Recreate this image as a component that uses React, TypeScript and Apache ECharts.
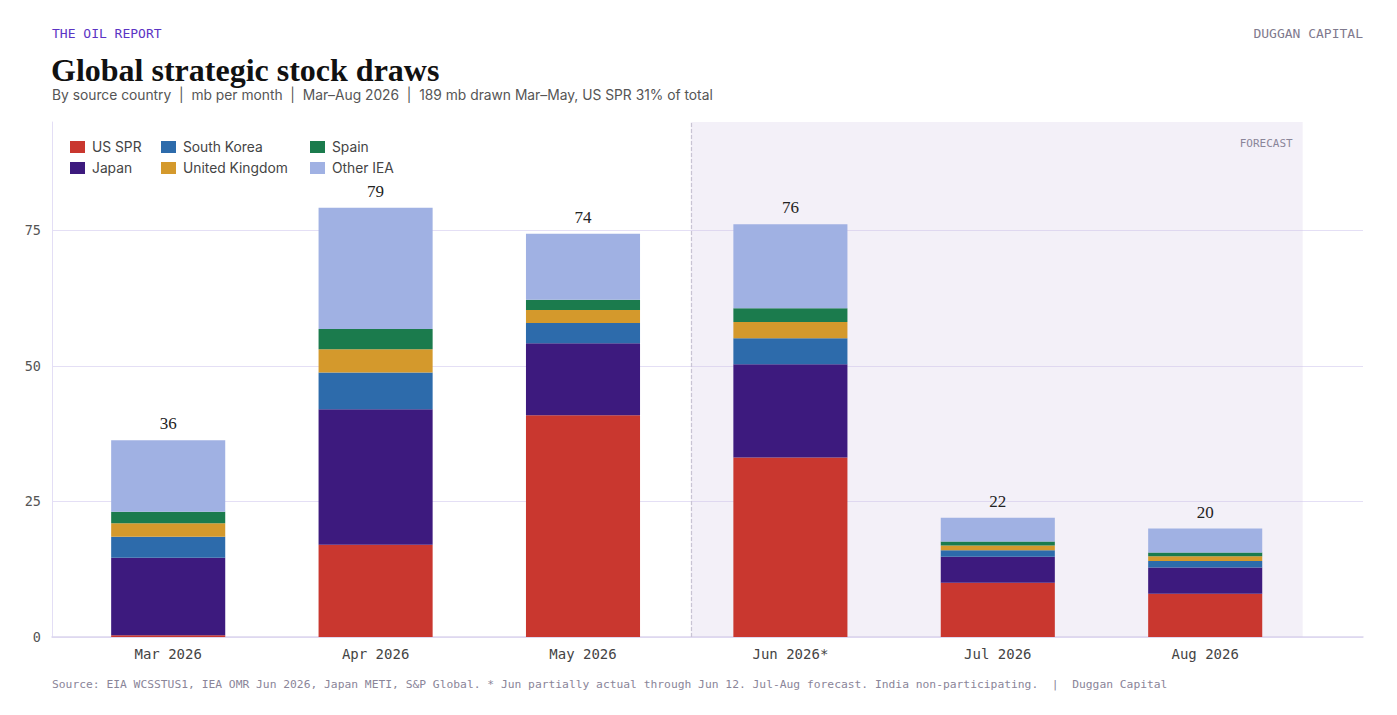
import React, { useEffect, useRef } from "react";
import * as echarts from "echarts";

const categories = ["Mar 2026", "Apr 2026", "May 2026", "Jun 2026*", "Jul 2026", "Aug 2026"];
const usSpr = [0.3, 17.0, 40.9, 33.1, 10.0, 8.0];
const japan = [14.3, 25.0, 13.3, 17.2, 4.8, 4.8];
const southKorea = [3.9, 6.8, 3.7, 4.8, 1.2, 1.2];
const unitedKingdom = [2.5, 4.3, 2.4, 3.0, 0.9, 0.9];
const spain = [2.1, 3.7, 1.9, 2.55, 0.7, 0.7];
const otherIea = [13.2, 22.4, 12.2, 15.5, 4.4, 4.4];
const totals = [36, 79, 74, 76, 22, 20];
const forecastStart = 3.02;
const forecastEnd = 5.97;
const yMax = 95;
const yInterval = 25;

const seriesDefs = [
  { name: "US SPR", data: usSpr, color: "#c9372f" },
  { name: "Japan", data: japan, color: "#3d1a7e" },
  { name: "South Korea", data: southKorea, color: "#2d6bab" },
  { name: "United Kingdom", data: unitedKingdom, color: "#d4992c" },
  { name: "Spain", data: spain, color: "#1b7b4d" },
  { name: "Other IEA", data: otherIea, color: "#a0b1e3" },
];

const MONO = "'DejaVu Sans Mono', 'Liberation Mono', monospace";
const SANS = "Inter, 'Noto Sans', sans-serif";
const SERIF = "'Liberation Serif', 'DejaVu Serif', serif";

export default function App() {
  const ref = useRef<HTMLDivElement>(null);
  useEffect(() => {
    if (!ref.current) return;
    const chart = echarts.init(ref.current, null, { renderer: "svg" });
    const legendCommon = {
      orient: "vertical",
      icon: "rect",
      itemWidth: 15,
      itemHeight: 12,
      itemGap: 7,
      top: 135,
      padding: 5,
      selectedMode: false,
      textStyle: { fontFamily: SANS, fontSize: 13.8, color: "#444", lineHeight: 14, padding: [0, 0, 0, 2] },
    };
    const barSeries = seriesDefs.map((s, i) => ({
      name: s.name,
      type: "bar",
      stack: "total",
      xAxisIndex: 1,
      yAxisIndex: 1,
      barWidth: "55%",
      data: s.data,
      z: 3,
      itemStyle: { color: s.color },
      label:
        i === seriesDefs.length - 1
          ? {
              show: true,
              position: "top",
              distance: 8,
              fontFamily: SERIF,
              fontSize: 17,
              color: "#222",
              formatter: (p: any) => String(totals[p.dataIndex]),
            }
          : { show: false },
    }));
    const option: any = {
      animation: false,
      backgroundColor: "#ffffff",
      grid: [
        { left: 52, right: 34, top: 122, bottom: 78 },
        { left: 64.5, right: 88.1, top: 122, bottom: 78 },
      ],
      xAxis: [
        {
          type: "value",
          gridIndex: 0,
          min: 0,
          max: 1,
          axisLine: { show: true, lineStyle: { color: "#dcd6ee", width: 1.5 } },
          axisTick: { show: false },
          axisLabel: { show: false },
          splitLine: { show: false },
        },
        {
          type: "category",
          gridIndex: 1,
          data: categories,
          axisLine: { show: false },
          axisTick: { show: false },
          axisLabel: { fontFamily: MONO, fontSize: 14, color: "#444", margin: 10 },
          splitLine: { show: false },
        },
        {
          type: "value",
          gridIndex: 1,
          position: "top",
          min: 0,
          max: 6,
          show: false,
        },
      ],
      yAxis: [
        {
          type: "value",
          gridIndex: 0,
          min: 0,
          max: yMax,
          interval: yInterval,
          axisLine: { show: true, lineStyle: { color: "#e3def5" } },
          axisTick: { show: false },
          axisLabel: { fontFamily: MONO, fontSize: 13.5, color: "#555", margin: 11, showMaxLabel: false },
          splitLine: { show: true, showMaxLine: false, lineStyle: { color: "#e4dff5", width: 1 } },
        },
        {
          type: "value",
          gridIndex: 1,
          min: 0,
          max: yMax,
          interval: yInterval,
          show: false,
          splitLine: { show: false },
        },
      ],
      legend: [
        { ...legendCommon, left: 65, data: ["US SPR", "Japan"] },
        { ...legendCommon, left: 156, data: ["South Korea", "United Kingdom"] },
        { ...legendCommon, left: 305, data: ["Spain", "Other IEA"] },
      ],
      series: [
        {
          name: "forecast",
          type: "line",
          xAxisIndex: 2,
          yAxisIndex: 1,
          data: [],
          z: 1,
          silent: true,
          markArea: {
            silent: true,
            itemStyle: { color: "rgba(207,195,227,0.25)" },
            label: {
              show: true,
              position: "insideTopRight",
              distance: 0,
              padding: [16, 10, 0, 0],
              fontFamily: MONO,
              fontSize: 11,
              color: "#8a8599",
              formatter: "FORECAST",
            },
            data: [[{ xAxis: forecastStart }, { xAxis: forecastEnd }]],
          },
          markLine: {
            silent: true,
            symbol: "none",
            label: { show: false },
            lineStyle: { color: "#c8c4d4", type: [4, 2], width: 1.2 },
            data: [{ xAxis: forecastStart }],
          },
        },
        ...barSeries,
      ],
      graphic: [
        {
          type: "text",
          left: 52,
          top: 27,
          style: { text: "THE OIL REPORT", font: `13px ${MONO}`, fill: "#5b34c4" },
        },
        {
          type: "text",
          right: 34,
          top: 27,
          style: { text: "DUGGAN CAPITAL", font: `13px ${MONO}`, fill: "#7f7a8e" },
        },
        {
          type: "text",
          left: 51,
          top: 54,
          style: { text: "Global strategic stock draws", font: `bold 32px ${SERIF}`, fill: "#111" },
        },
        {
          type: "text",
          left: 52,
          top: 88,
          style: {
            text: "By source country  |  mb per month  |  Mar–Aug 2026  |  189 mb drawn Mar–May, US SPR 31% of total",
            font: `13.8px ${SANS}`,
            fill: "#555",
          },
        },
        {
          type: "text",
          left: 52,
          top: 679,
          style: {
            text:
              "Source: EIA WCSSTUS1, IEA OMR Jun 2026, Japan METI, S&P Global. * Jun partially actual through Jun 12. Jul-Aug forecast. India non-participating.  |  Duggan Capital",
            font: `11.3px ${MONO}`,
            fill: "#8a8599",
          },
        },
      ],
    };
    chart.setOption(option);
    return () => chart.dispose();
  }, []);
  return <div ref={ref} style={{ position: "fixed", left: 0, top: 0, width: 1397, height: 715 }} />;
}
